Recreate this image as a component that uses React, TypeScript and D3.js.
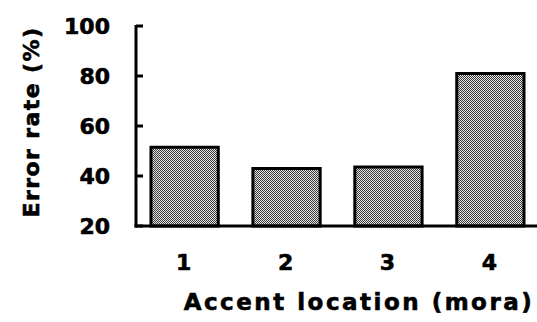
import React from "react";
import * as d3 from "d3";

const categories = ["1", "2", "3", "4"];
const errorRates = [51.5, 43, 43.6, 81];
const yTicks = [20, 40, 60, 80, 100];

const W = 537;
const H = 322;
const FONT = "'DejaVu Sans', sans-serif";

export default function App() {
  const axisX = 136;
  const baseY = 226;
  const x = d3
    .scaleBand<string>()
    .domain(categories)
    .range([axisX, 539])
    .paddingInner(0.34)
    .paddingOuter(0.147);
  const y = d3.scaleLinear().domain([20, 100]).range([baseY, 26]);

  const textStyle = {
    fontFamily: FONT,
    fontWeight: "bold" as const,
    fill: "#000",
    stroke: "#000",
    strokeWidth: 0.6,
  };

  return (
    <svg
      width={W}
      height={H}
      style={{ position: "absolute", left: 0, top: 0, background: "#fff" }}
    >
      <defs>
        <pattern id="dither" width={2} height={2} patternUnits="userSpaceOnUse">
          <rect width={2} height={2} fill="#e6e6e6" />
          <rect x={0} y={0} width={1} height={1} fill="#3a3a3a" />
          <rect x={1} y={1} width={1} height={1} fill="#3a3a3a" />
        </pattern>
      </defs>
      {categories.map((c, i) => (
        <rect
          key={c}
          x={x(c)!}
          y={y(errorRates[i])}
          width={x.bandwidth()}
          height={baseY - y(errorRates[i])}
          fill="url(#dither)"
          stroke="#000"
          strokeWidth={3}
        />
      ))}
      {/* y axis */}
      <line x1={axisX} x2={axisX} y1={y(100) - 1} y2={baseY + 1.5} stroke="#000" strokeWidth={3} />
      {yTicks.map((t) => (
        <g key={t}>
          <line x1={axisX} x2={axisX + 7} y1={y(t)} y2={y(t)} stroke="#000" strokeWidth={3} />
          <text
            x={110}
            y={y(t)}
            textAnchor="end"
            dominantBaseline="central"
            fontSize={22}
            {...textStyle}
          >
            {t}
          </text>
        </g>
      ))}
      {/* x axis */}
      <line x1={axisX - 1.5} x2={W} y1={baseY} y2={baseY} stroke="#000" strokeWidth={3} />
      {categories.map((c) => (
        <text
          key={c}
          x={x(c)! + x.bandwidth() / 2 - 1}
          y={262}
          textAnchor="middle"
          dominantBaseline="central"
          fontSize={22}
          {...textStyle}
        >
          {c}
        </text>
      ))}
      <text
        x={359}
        y={302}
        textAnchor="middle"
        dominantBaseline="central"
        fontSize={23}
        letterSpacing={2.5}
        {...textStyle}
      >
        Accent location (mora)
      </text>
      <text
        transform={`translate(31,122) rotate(-90)`}
        textAnchor="middle"
        dominantBaseline="central"
        fontSize={22}
        letterSpacing={1.4}
        {...textStyle}
      >
        Error rate (%)
      </text>
    </svg>
  );
}
